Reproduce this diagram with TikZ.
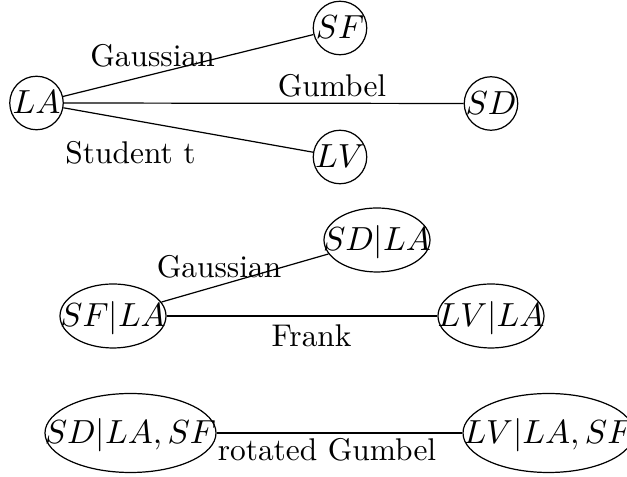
\documentclass[tikz,border=0pt]{standalone}
\usetikzlibrary{shapes.geometric}
\newcommand{\vlab}[1]{\smash{\raisebox{-3.6pt}{\makebox[0pt][c]{$#1$}}}}
\tikzset{
  mathfont/.style={font=\fontsize{10.9pt}{13pt}\selectfont},
  cnode/.style={draw, circle, inner sep=0pt, minimum size=53.5*0.328pt, mathfont},
  enode/.style={draw, ellipse, inner sep=0pt, minimum width=106*0.328pt, minimum height=64*0.328pt, mathfont},
  bignode/.style={draw, ellipse, inner sep=0pt, minimum width=171*0.328pt, minimum height=79*0.328pt, mathfont},
  lab/.style={anchor=base, inner sep=0pt, font=\fontsize{10.3pt}{12.4pt}\selectfont},
  conn/.style={draw, line width=0.4pt}
}
\begin{document}
\begin{tikzpicture}[x=0.328pt, y=-0.328pt]
\useasboundingbox (0,0) rectangle (627,477);
% top row
\node[cnode] (LA) at (36.5,103) {\vlab{LA}};
\node[cnode] (SF) at (340,28) {\vlab{SF}};
\node[cnode] (SD) at (491,103.5) {\vlab{SD}};
\node[cnode] (LV) at (340,157) {\vlab{LV}};
\draw[conn] (LA) -- (SF);
\draw[conn] (LA) -- (SD);
\draw[conn] (LA) -- (LV);
\node[lab] (l1) at (152.5,67) {Gaussian};
\node[lab] (l2) at (332,96.5) {Gumbel};
\node[lab] (l3) at (130.5,164) {Student t};
% middle row
\node[enode] (SFLA) at (113,316) {\vlab{SF|LA}};
\node[enode] (SDLA) at (377,240) {\vlab{SD|LA}};
\node[enode] (LVLA) at (491,316) {\vlab{LV|LA}};
\draw[conn] (SFLA) -- (SDLA);
\draw[conn] (SFLA) -- (LVLA);
\node[lab] (l4) at (219,278) {Gaussian};
\node[lab] (l5) at (311.5,347) {Frank};
% bottom row
\node[bignode] (SDLASF) at (130.5,433) {\vlab{SD|LA,SF}};
\node[bignode] (LVLASF) at (548.5,433) {\vlab{LV|LA,SF}};
\draw[conn] (SDLASF) -- (LVLASF);
\node[lab] (l6) at (327,461) {rotated Gumbel};
\end{tikzpicture}
\end{document}
